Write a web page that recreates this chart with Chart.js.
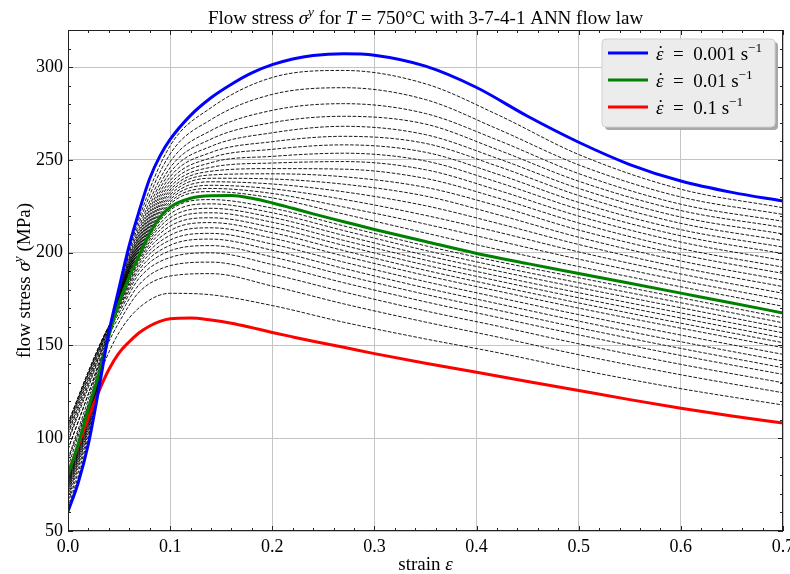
<!DOCTYPE html>
<html>
<head>
<meta charset="utf-8">
<title>Flow stress, T = 750°C</title>
<script src="https://cdn.jsdelivr.net/npm/chart.js@4.4.0/dist/chart.umd.min.js"></script>
<style>
  html, body { margin: 0; padding: 0; background: #fff; }
  canvas { display: block; }
</style>
</head>
<body>
<canvas id="chart" width="790" height="574"></canvas>
<script>
// strain points for the three highlighted strain rates
const strain = [0, 0.01, 0.02, 0.03, 0.04, 0.05, 0.06, 0.07, 0.08, 0.09, 0.1, 0.12, 0.14,
                0.16, 0.18, 0.2, 0.22, 0.24, 0.27, 0.3, 0.35, 0.4, 0.45, 0.5, 0.55, 0.6, 0.65, 0.7];
const stress001 = [60.5, 76, 97, 126, 157, 181, 204, 223, 240, 252, 261, 274, 283.5,
                   290.8, 296.9, 301.3, 304.4, 306.3, 307.2, 306.4, 300.5, 289, 273.5, 259.5,
                   247.5, 238.6, 232.5, 227.8];
const stress01 = [80, 97, 116, 134, 155, 173, 187, 199, 210.5, 219, 224.5, 229.3, 230.7,
                  230.8, 229.3, 226.8, 223.9, 220.9, 216.7, 212.5, 206, 199.6, 194.1, 188.8,
                  183.5, 178.2, 172.9, 167.5];
const stress1 = [81, 96, 111, 125, 137, 146, 152, 157, 160.5, 163, 164.4, 164.8, 163.7,
                 162, 159.6, 157, 154.6, 152.3, 149, 145.6, 140.4, 135.5, 130.6, 125.7,
                 120.8, 116.2, 112, 108.2];

// strain points for the intermediate rates (dashed)
const strainDashed = [0, 0.02, 0.035, 0.05, 0.07, 0.1, 0.14, 0.2, 0.27, 0.35, 0.42, 0.5, 0.6, 0.7];
// between 0.001 and 0.01 s^-1 (top to bottom)
const dashedUpper = [
  [62.3, 98.8, 142.3, 180.3, 219.0, 257.6, 278.1, 294.4, 298.2, 291.0, 274.5, 252.9, 234.2, 224.2],
  [64.7, 101.1, 142.6, 179.5, 216.5, 253.2, 271.7, 285.3, 288.9, 282.5, 266.8, 247.3, 230.0, 220.6],
  [66.9, 103.2, 143.0, 178.7, 214.1, 249.0, 265.8, 276.7, 280.3, 275.0, 260.8, 242.6, 226.1, 216.9],
  [68.6, 104.9, 143.2, 178.1, 212.3, 245.8, 261.2, 270.1, 273.5, 269.3, 255.6, 238.5, 222.7, 213.6],
  [70.0, 106.3, 143.5, 177.6, 210.7, 243.2, 257.3, 264.6, 268.1, 263.6, 250.9, 234.6, 219.2, 210.1],
  [71.3, 107.5, 143.7, 177.1, 209.4, 240.9, 254.0, 259.8, 262.7, 258.9, 246.7, 230.8, 215.8, 206.5],
  [72.3, 108.5, 143.8, 176.8, 208.3, 238.8, 251.1, 255.7, 258.1, 254.1, 242.4, 227.1, 212.4, 203.0],
  [73.3, 109.5, 144.0, 176.4, 207.2, 237.0, 248.5, 251.9, 253.6, 249.4, 238.1, 223.4, 209.1, 199.5],
  [74.2, 110.4, 144.1, 176.1, 206.2, 235.3, 246.0, 248.3, 249.1, 244.7, 233.8, 219.7, 205.7, 195.8],
  [75.0, 111.1, 144.2, 175.8, 205.4, 233.8, 243.9, 245.3, 245.0, 240.0, 229.6, 216.0, 202.2, 192.2],
  [75.7, 111.9, 144.3, 175.5, 204.6, 232.5, 241.9, 242.5, 240.9, 235.2, 225.3, 212.2, 199.0, 188.8],
  [76.5, 112.5, 144.5, 175.3, 203.8, 231.1, 240.1, 239.7, 236.9, 230.5, 220.6, 208.3, 195.5, 185.2],
  [77.2, 113.2, 144.6, 175.0, 203.1, 229.8, 238.2, 237.0, 232.8, 225.3, 215.9, 204.4, 192.0, 181.7],
  [77.8, 113.9, 144.7, 174.8, 202.3, 228.6, 236.3, 234.4, 228.7, 220.1, 211.2, 200.4, 188.5, 178.1],
  [78.5, 114.5, 144.8, 174.5, 201.6, 227.3, 234.6, 231.9, 224.6, 215.4, 206.5, 196.5, 185.0, 174.6],
  [79.1, 115.1, 144.9, 174.3, 201.0, 226.2, 232.9, 229.5, 220.8, 210.6, 201.8, 192.5, 181.6, 171.1]
];
// between 0.01 and 0.1 s^-1 (bottom to top)
const dashedLower = [
  [88, 118, 140, 157, 170.5, 178.1, 177.3, 171.5, 162.5, 153.5, 146.2, 137.0, 126.7, 117.9],
  [94, 124, 146, 162.5, 179, 187.4, 188.7, 182.0, 172.4, 162.6, 154.6, 145.0, 134.2, 124.5],
  [99, 129, 150, 165.5, 183, 193.0, 194.9, 188.4, 178.8, 168.6, 160.5, 150.9, 139.8, 129.9],
  [103, 132, 152.5, 167.5, 186.5, 197.4, 199.9, 193.6, 183.8, 173.5, 165.2, 155.7, 144.6, 134.4],
  [106, 134.5, 154, 169, 189, 201.0, 203.8, 197.7, 187.9, 177.5, 169.1, 159.5, 148.4, 138.0],
  [108, 136, 155, 170, 191, 204.0, 207.3, 201.3, 191.5, 181.0, 172.6, 163.1, 152.0, 141.6],
  [108, 136, 155, 171, 192.8, 206.8, 210.4, 204.6, 194.9, 184.4, 176.0, 166.6, 155.6, 145.2],
  [107, 135, 154.5, 171.7, 194.3, 209.4, 213.4, 207.8, 198.2, 187.7, 179.4, 170.1, 159.3, 148.8],
  [105, 133, 153.5, 172.3, 195.6, 211.9, 216.2, 210.8, 201.1, 190.5, 182.1, 172.9, 162.0, 151.5],
  [102, 130.5, 152, 172.8, 196.7, 214.3, 218.8, 213.6, 203.9, 193.3, 184.9, 175.7, 164.8, 154.1],
  [98, 127.5, 150.5, 173.2, 197.6, 216.6, 221.5, 216.4, 206.6, 196.0, 187.5, 178.4, 167.5, 156.8],
  [94, 124, 149, 173.5, 198.4, 218.8, 223.9, 219.0, 209.3, 198.6, 190.2, 181.2, 170.3, 159.5],
  [89, 121, 147.5, 173.8, 199.1, 220.9, 226.3, 221.5, 211.9, 201.2, 192.7, 183.8, 173.0, 162.2],
  [84.5, 118.5, 146, 174, 199.6, 222.9, 228.6, 224.0, 214.4, 203.7, 195.3, 186.5, 175.7, 164.9]
];

const rateLabels = ['0.001', '0.01', '0.1'];
const rateColors = ['#0000ff', '#008000', '#ff0000'];

const FONT = '"Liberation Serif", "Times New Roman", serif';
Chart.defaults.font.family = FONT;
Chart.defaults.color = '#000';

function pts(xs, ys) {
  return ys.map((y, i) => ({ x: xs[i], y: y }));
}

const datasets = [];
[stress001, stress01, stress1].forEach((ys, i) => {
  datasets.push({
    label: rateLabels[i],
    data: pts(strain, ys),
    borderColor: rateColors[i],
    borderWidth: 3,
    fill: false
  });
});
dashedUpper.concat(dashedLower).forEach(ys => {
  datasets.push({
    data: pts(strainDashed, ys),
    borderColor: '#000',
    borderWidth: 0.9,
    borderDash: [3.6, 1.6],
    fill: false
  });
});

// text made of runs: [text, style]; style letters: i italic, s superscript, d dot above
function runFont(size, style) {
  const sz = style.includes('s') ? size * 0.7 : size;
  return (style.includes('i') ? 'italic ' : '') + sz + 'px ' + FONT;
}
function runsWidth(ctx, runs, size) {
  let w = 0;
  runs.forEach(([t, st]) => { ctx.font = runFont(size, st); w += ctx.measureText(t).width; });
  return w;
}
function drawRuns(ctx, runs, x, y, size, align) {
  let cx = align === 'center' ? x - runsWidth(ctx, runs, size) / 2 : x;
  ctx.textBaseline = 'alphabetic';
  runs.forEach(([t, st]) => {
    ctx.font = runFont(size, st);
    const dy = st.includes('s') ? -size * 0.4 : 0;
    const w = ctx.measureText(t).width;
    ctx.textAlign = 'left';
    ctx.fillText(t, cx, y + dy);
    if (st.includes('d')) {
      ctx.font = size + 'px ' + FONT;
      ctx.textAlign = 'center';
      ctx.fillText('\u02D9', cx + w / 2 + 1, y - 1);
    }
    cx += w;
  });
  ctx.textAlign = 'left';
}

const titleRuns = [['Flow stress ', ''], ['σ', 'i'], ['y', 'is'], [' for ', ''], ['T', 'i'],
                   [' = 750°C with 3-7-4-1 ANN flow law', '']];
const xTitleRuns = [['strain ', ''], ['ε', 'i']];
const yTitleRuns = [['flow stress ', ''], ['σ', 'i'], ['y', 'is'], [' (MPa)', '']];

const decorations = {
  id: 'decorations',
  afterDatasetsDraw(chart) {
    const { ctx, chartArea: a, scales: { x, y } } = chart;
    ctx.save();
    ctx.strokeStyle = '#222';
    ctx.lineWidth = 1;
    ctx.strokeRect(a.left + 0.5, a.top + 0.5, a.right - a.left - 1, a.bottom - a.top - 1);
    ctx.beginPath();
    for (let i = 0; i <= 35; i++) {
      const px = Math.round(x.getPixelForValue(i * 0.02)) + 0.5;
      const len = i % 5 === 0 ? 5 : 3;
      ctx.moveTo(px, a.bottom); ctx.lineTo(px, a.bottom - len);
      ctx.moveTo(px, a.top); ctx.lineTo(px, a.top + len);
    }
    for (let v = 50; v <= 320; v += 10) {
      const py = Math.round(y.getPixelForValue(v)) + 0.5;
      const len = v % 50 === 0 ? 5 : 3;
      ctx.moveTo(a.left, py); ctx.lineTo(a.left + len, py);
      ctx.moveTo(a.right, py); ctx.lineTo(a.right - len, py);
    }
    ctx.stroke();
    ctx.restore();
  },
  afterDraw(chart) {
    const { ctx, chartArea: a } = chart;
    const cx = (a.left + a.right) / 2;
    ctx.save();
    ctx.fillStyle = '#000';
    drawRuns(ctx, titleRuns, cx, 24, 19, 'center');
    drawRuns(ctx, xTitleRuns, cx, 570, 19, 'center');
    ctx.save();
    ctx.translate(30, (a.top + a.bottom) / 2);
    ctx.rotate(-Math.PI / 2);
    drawRuns(ctx, yTitleRuns, 0, 0, 19, 'center');
    ctx.restore();

    // legend box
    const bx = 602, by = 39, bw = 173, bh = 88, r = 4;
    const box = (ox, oy) => {
      ctx.beginPath();
      ctx.moveTo(ox + r, oy);
      ctx.lineTo(ox + bw - r, oy);
      ctx.quadraticCurveTo(ox + bw, oy, ox + bw, oy + r);
      ctx.lineTo(ox + bw, oy + bh - r);
      ctx.quadraticCurveTo(ox + bw, oy + bh, ox + bw - r, oy + bh);
      ctx.lineTo(ox + r, oy + bh);
      ctx.quadraticCurveTo(ox, oy + bh, ox, oy + bh - r);
      ctx.lineTo(ox, oy + r);
      ctx.quadraticCurveTo(ox, oy, ox + r, oy);
      ctx.closePath();
    };
    box(bx + 3, by + 3);
    ctx.fillStyle = '#a8a8a8';
    ctx.fill();
    box(bx, by);
    ctx.fillStyle = '#ececec';
    ctx.fill();
    ctx.strokeStyle = '#d0d0d0';
    ctx.lineWidth = 1;
    ctx.stroke();
    rateLabels.forEach((lab, i) => {
      const ly = 53 + i * 27;
      ctx.strokeStyle = rateColors[i];
      ctx.lineWidth = 3;
      ctx.beginPath();
      ctx.moveTo(608, ly); ctx.lineTo(648, ly);
      ctx.stroke();
      ctx.fillStyle = '#000';
      drawRuns(ctx, [['ε', 'id'], ['\u2002=\u2002' + lab + ' s', ''], ['−1', 's']], 656, ly + 7, 19, 'left');
    });
    ctx.restore();
  }
};

new Chart(document.getElementById('chart'), {
  type: 'line',
  data: { datasets: datasets },
  options: {
    responsive: false,
    animation: false,
    devicePixelRatio: 1,
    layout: { padding: { top: 30, right: 7, left: 0, bottom: 0 } },
    elements: {
      point: { radius: 0 },
      line: { cubicInterpolationMode: 'monotone' }
    },
    plugins: {
      legend: { display: false },
      title: { display: false },
      tooltip: { enabled: false }
    },
    scales: {
      x: {
        type: 'linear',
        min: 0,
        max: 0.7,
        ticks: { stepSize: 0.1, padding: 5, maxRotation: 0, autoSkip: false,
                 font: { size: 18 }, callback: v => v.toFixed(1) },
        grid: { color: '#c4c4c4', lineWidth: 1, drawTicks: false },
        border: { display: false },
        afterFit(s) { s.height = 43; s.paddingLeft = 0; s.paddingRight = 0; }
      },
      y: {
        min: 50,
        max: 320,
        ticks: { stepSize: 50, includeBounds: false, padding: 5, font: { size: 18 } },
        grid: { color: '#c4c4c4', lineWidth: 1, drawTicks: false },
        border: { display: false },
        afterFit(s) { s.width = 68; s.paddingTop = 0; s.paddingBottom = 0; }
      }
    }
  },
  plugins: [decorations]
});
</script>
</body>
</html>
